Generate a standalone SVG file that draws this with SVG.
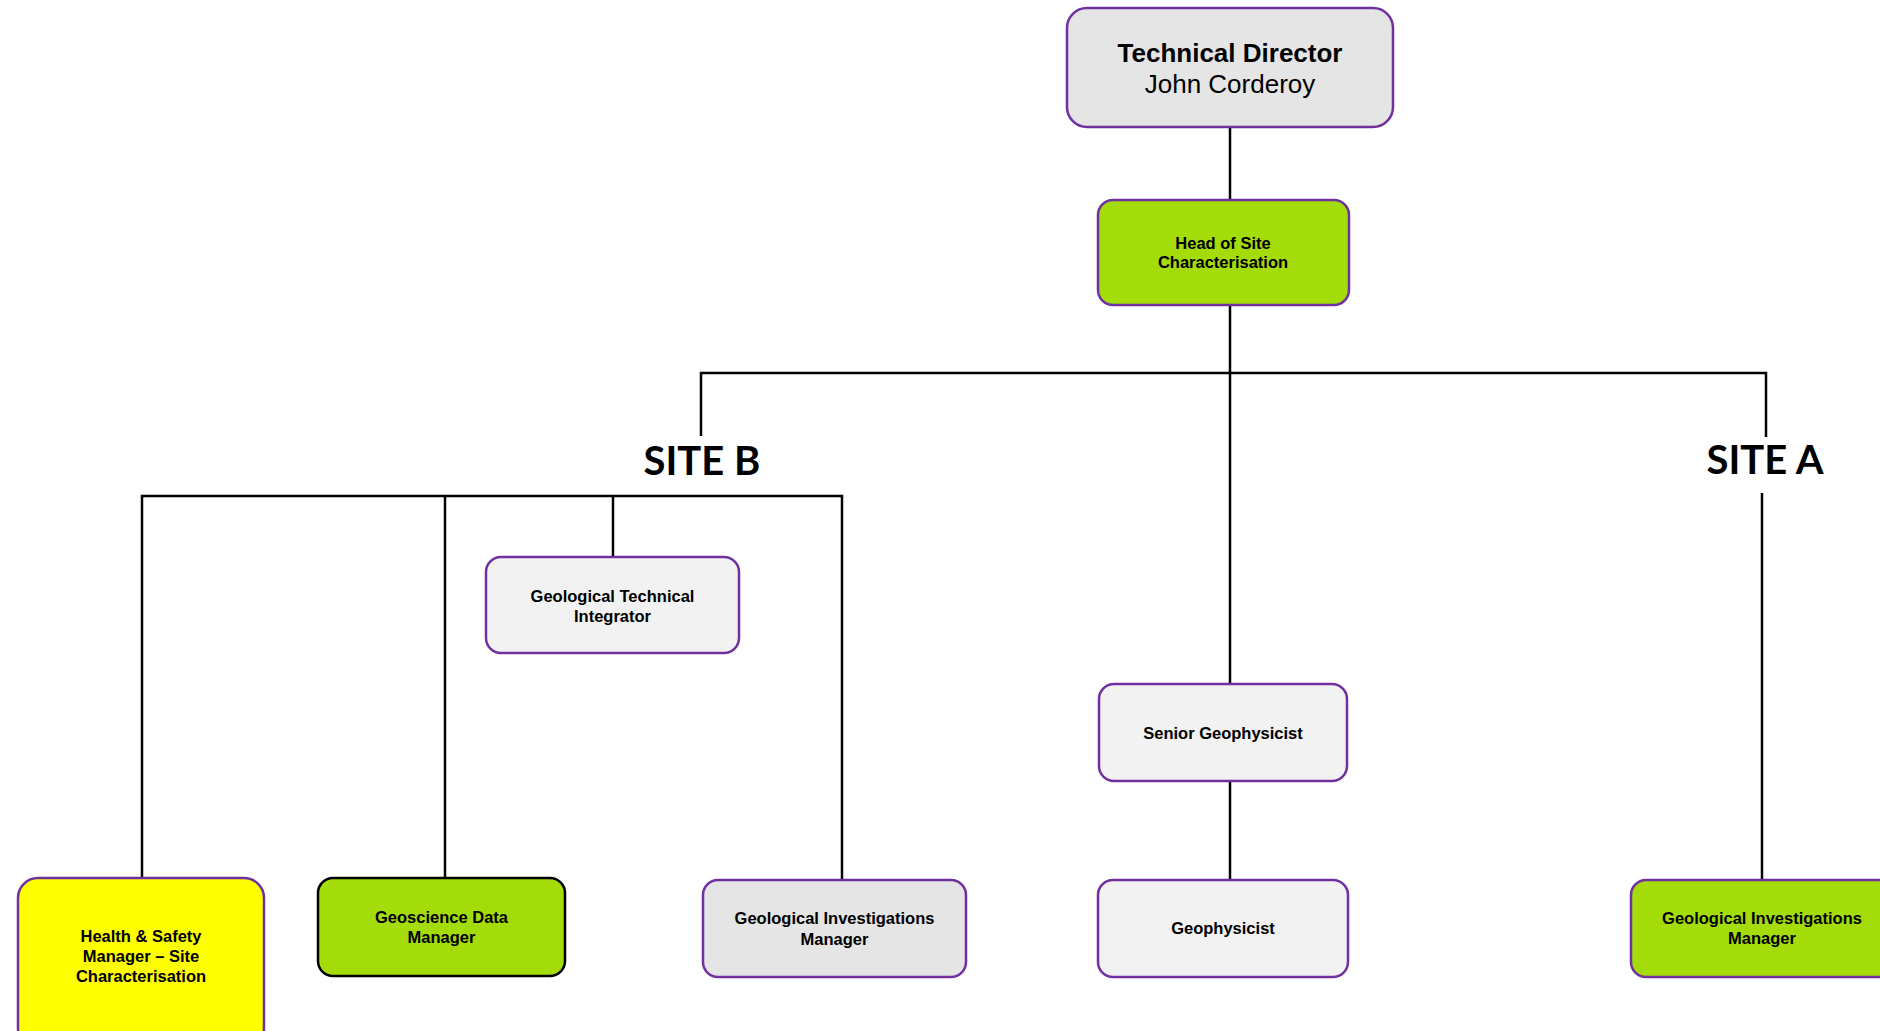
<svg xmlns="http://www.w3.org/2000/svg" width="1880" height="1031" viewBox="0 0 1880 1031">
  <style>
    .box { stroke: #7030a0; stroke-width: 2.5; }
    .grey { fill: #e5e5e5; }
    .light { fill: #f2f2f2; }
    .lime { fill: #a3dc08; }
    .yellow { fill: #ffff00; }
    .black-edge { stroke: #000000; }
    .lbl { font-family: "Liberation Sans", Arial, sans-serif; font-weight: bold; font-size: 16.5px; fill: #000; text-anchor: middle; }
    .site { font-family: Lato, "Open Sans", sans-serif; font-weight: bold; font-size: 40px; fill: #000; text-anchor: middle; }
    .wire { stroke: #000; stroke-width: 2.5; fill: none; }
  </style>

  <rect width="1880" height="1031" fill="#ffffff"/>

  <!-- connectors -->
  <g id="connectors" class="wire">
    <line x1="1230" y1="127" x2="1230" y2="200"/>
    <line x1="1230" y1="305" x2="1230" y2="684"/>
    <polyline points="701,436 701,373 1766,373 1766,437"/>
    <line x1="1762" y1="493" x2="1762" y2="880"/>
    <line x1="1230" y1="781" x2="1230" y2="880"/>
    <polyline points="142,878 142,496 842,496 842,880"/>
    <line x1="445" y1="496" x2="445" y2="878"/>
    <line x1="613" y1="496" x2="613" y2="557"/>
  </g>

  <!-- site headings -->
  <g id="site-b">
    <text class="site" x="702" y="475">SITE B</text>
  </g>
  <g id="site-a">
    <text class="site" x="1765" y="474">SITE A</text>
  </g>

  <g id="technical-director">
    <rect class="box grey" x="1067" y="8" width="326" height="119" rx="20"/>
    <text x="1230" y="62" font-family="Liberation Sans, Arial, sans-serif" font-weight="bold" font-size="26" text-anchor="middle" fill="#000">Technical Director</text>
    <text x="1230" y="93" font-family="Liberation Sans, Arial, sans-serif" font-size="26" text-anchor="middle" fill="#000">John Corderoy</text>
  </g>

  <g id="head-site-characterisation">
    <rect class="box lime" x="1098" y="200" width="251" height="105" rx="15"/>
    <text class="lbl" x="1223" y="249">Head of Site</text>
    <text class="lbl" x="1223" y="268">Characterisation</text>
  </g>

  <g id="geological-technical-integrator">
    <rect class="box light" x="486" y="557" width="253" height="96" rx="15"/>
    <text class="lbl" x="612.5" y="602">Geological Technical</text>
    <text class="lbl" x="612.5" y="622">Integrator</text>
  </g>

  <g id="senior-geophysicist">
    <rect class="box light" x="1099" y="684" width="248" height="97" rx="15"/>
    <text class="lbl" x="1223" y="739">Senior Geophysicist</text>
  </g>

  <g id="geophysicist">
    <rect class="box light" x="1098" y="880" width="250" height="97" rx="15"/>
    <text class="lbl" x="1223" y="934">Geophysicist</text>
  </g>

  <g id="health-safety-manager">
    <rect class="box yellow" x="18" y="878" width="246" height="170" rx="20"/>
    <text class="lbl" x="141" y="942">Health &amp; Safety</text>
    <text class="lbl" x="141" y="962">Manager – Site</text>
    <text class="lbl" x="141" y="982">Characterisation</text>
  </g>

  <g id="geoscience-data-manager">
    <rect class="box lime black-edge" x="318" y="878" width="247" height="98" rx="15"/>
    <text class="lbl" x="441.5" y="923">Geoscience Data</text>
    <text class="lbl" x="441.5" y="943">Manager</text>
  </g>

  <g id="geological-investigations-manager-b">
    <rect class="box grey" x="703" y="880" width="263" height="97" rx="15"/>
    <text class="lbl" x="834.5" y="924">Geological Investigations</text>
    <text class="lbl" x="834.5" y="945">Manager</text>
  </g>

  <g id="geological-investigations-manager-a">
    <rect class="box lime" x="1631" y="880" width="262" height="97" rx="15"/>
    <text class="lbl" x="1762" y="924">Geological Investigations</text>
    <text class="lbl" x="1762" y="944">Manager</text>
  </g>
</svg>
